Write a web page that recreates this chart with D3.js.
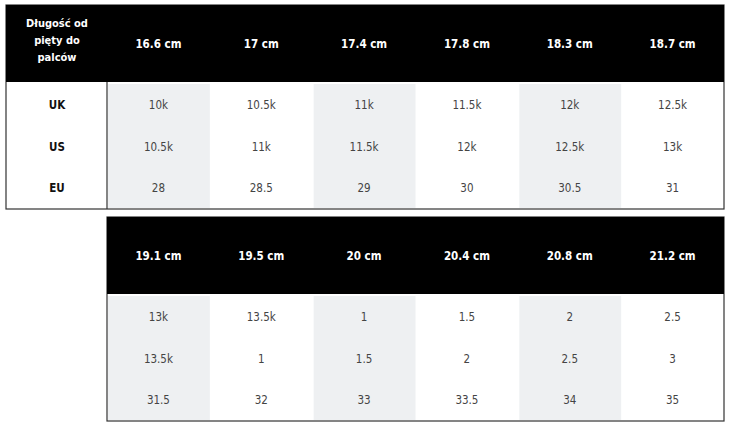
<!DOCTYPE html>
<html><head><meta charset="utf-8">
<script src="https://cdn.jsdelivr.net/npm/d3@7"></script>
<style>
body { margin: 0; background: #fff; }
text { font-family: "DejaVu Sans Condensed", "Roboto Condensed", Roboto, sans-serif; }
</style></head>
<body><div id="chart"></div>
<script>
'use strict';

const rowLabels = ["UK", "US", "EU"];
const lengths1 = ["16.6 cm", "17 cm", "17.4 cm", "17.8 cm", "18.3 cm", "18.7 cm"];
const uk1 = ["10k", "10.5k", "11k", "11.5k", "12k", "12.5k"];
const us1 = ["10.5k", "11k", "11.5k", "12k", "12.5k", "13k"];
const eu1 = ["28", "28.5", "29", "30", "30.5", "31"];
const lengths2 = ["19.1 cm", "19.5 cm", "20 cm", "20.4 cm", "20.8 cm", "21.2 cm"];
const uk2 = ["13k", "13.5k", "1", "1.5", "2", "2.5"];
const us2 = ["13.5k", "1", "1.5", "2", "2.5", "3"];
const eu2 = ["31.5", "32", "33", "33.5", "34", "35"];

const svg = d3.select("#chart").append("svg").attr("width", 730).attr("height", 428);

function drawTable(top, headers, rows, withLabels) {
    const left = withLabels ? 6 : 107;
    const x = d3.scaleBand().domain(d3.range(6)).range([107, 724]);
    const headerH = 77, bodyH = 127;
    const y = d3.scaleBand().domain(d3.range(3)).range([top + headerH + 2, top + headerH + bodyH]);
    const g = svg.append("g");

    g.append("rect").attr("x", left).attr("y", top).attr("width", 724 - left).attr("height", headerH + bodyH)
        .attr("fill", "#fff").attr("stroke", "#333").attr("stroke-width", 1.2);
    g.append("rect").attr("x", left).attr("y", top).attr("width", 724 - left).attr("height", headerH).attr("fill", "#000");

    // shaded columns
    g.selectAll(".shade").data(d3.range(6).filter(i => i % 2 === 0)).enter().append("rect")
        .attr("x", i => x(i) + 1).attr("y", top + headerH + 2)
        .attr("width", x.bandwidth() - 1).attr("height", bodyH - 3).attr("fill", "#eef0f2");

    g.selectAll(".hdr").data(headers).enter().append("text")
        .attr("x", (d, i) => x(i) + x.bandwidth() / 2).attr("y", top + headerH / 2 + 4)
        .attr("text-anchor", "middle").attr("fill", "#fff").attr("font-size", 11.5).attr("font-weight", "bold")
        .text(d => d);

    rows.forEach((vals, r) => {
        g.selectAll(".cell" + r).data(vals).enter().append("text")
            .attr("x", (d, i) => x(i) + x.bandwidth() / 2).attr("y", y(r) + y.bandwidth() / 2 + 4)
            .attr("text-anchor", "middle").attr("fill", "#444").attr("font-size", 11.5)
            .text(d => d);
    });

    if (withLabels) {
        g.append("line").attr("x1", 107).attr("x2", 107).attr("y1", top + headerH).attr("y2", top + headerH + bodyH)
            .attr("stroke", "#333").attr("stroke-width", 1.2);
        ["Długość od", "pięty do", "palców"].forEach((t, i) => {
            g.append("text").attr("x", 57).attr("y", top + 22 + i * 17).attr("text-anchor", "middle")
                .attr("fill", "#fff").attr("font-size", 11).attr("font-weight", "bold").text(t);
        });
        g.selectAll(".lbl").data(rowLabels).enter().append("text")
            .attr("x", 57).attr("y", (d, i) => y(i) + y.bandwidth() / 2 + 4)
            .attr("text-anchor", "middle").attr("fill", "#111").attr("font-size", 11.5).attr("font-weight", "bold")
            .text(d => d);
    }
}

drawTable(5, lengths1, [uk1, us1, eu1], true);
drawTable(217, lengths2, [uk2, us2, eu2], false);
</script></body></html>
